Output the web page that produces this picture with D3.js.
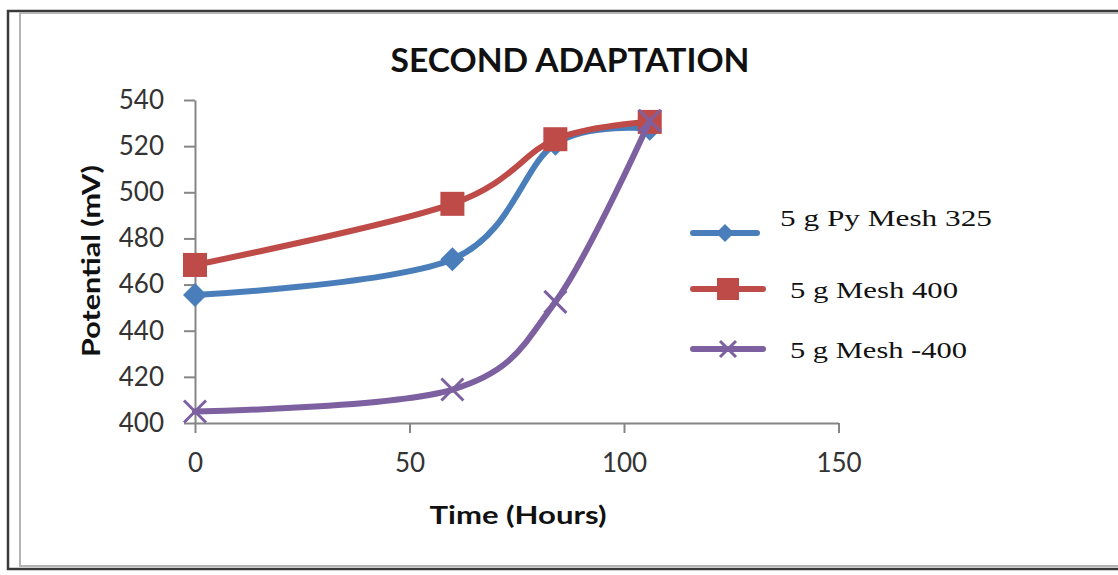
<!DOCTYPE html>
<html>
<head>
<meta charset="utf-8">
<script src="https://cdn.jsdelivr.net/npm/d3@7"></script>
<style>
  body { margin: 0; background: #fff; }
</style>
</head>
<body>
<div id="chart"></div>
<script>
// data
const hours = [0, 60, 84, 106];
const pyMesh325 = [455.5, 471, 521, 527.5];
const mesh400 = [468.5, 495, 523, 530.5];
const meshMinus400 = [405, 414.5, 452.5, 531];
const seriesNames = ['5 g Py Mesh 325', '5 g Mesh 400', '5 g Mesh -400'];
const xTicks = [0, 50, 100, 150];
const yTicks = [400, 420, 440, 460, 480, 500, 520, 540];

const width = 1118;
const height = 575;
const margin = { top: 100, right: 280, bottom: 152, left: 195 };

const colors = ['#4a7ebb', '#be4b48', '#7d60a0'];
const markers = ['diamond', 'square', 'cross'];

const svg = d3.select('#chart')
  .append('svg')
  .attr('width', width)
  .attr('height', height);

// chart frame (runs off the right edge)
svg.append('rect')
  .attr('x', 8).attr('y', 11)
  .attr('width', 1140).attr('height', 558)
  .attr('fill', 'none').attr('stroke', '#3a3a3a').attr('stroke-width', 2.5);
svg.append('rect')
  .attr('x', 20).attr('y', 13)
  .attr('width', 1120).attr('height', 553)
  .attr('fill', 'none').attr('stroke', '#b4b4b4').attr('stroke-width', 2);

const x = d3.scaleLinear()
  .domain([0, 150])
  .range([margin.left, 838.5]);

const y = d3.scaleLinear()
  .domain([400, 540])
  .range([423, margin.top]);

// Title
svg.append('text')
  .attr('x', 570).attr('y', 72)
  .attr('text-anchor', 'middle')
  .attr('textLength', 359).attr('lengthAdjust', 'spacingAndGlyphs')
  .style('font-family', 'Lato, "Open Sans", sans-serif')
  .style('font-weight', 'bold')
  .style('font-size', '33px')
  .style('fill', '#111')
  .text('SECOND ADAPTATION');

// X-axis
const xAxis = svg.append('g')
  .attr('transform', `translate(0,${y(400)})`)
  .call(d3.axisBottom(x).tickValues(xTicks).tickSize(10).tickPadding(21).tickSizeOuter(0));

// Y-axis
const yAxis = svg.append('g')
  .attr('transform', `translate(${x(0)},0)`)
  .call(d3.axisLeft(y).tickValues(yTicks).tickSize(11).tickPadding(20).tickSizeOuter(0));

[xAxis, yAxis].forEach(g => {
  g.select('.domain').attr('stroke', '#868686').attr('stroke-width', 2);
  g.selectAll('.tick line').attr('stroke', '#868686').attr('stroke-width', 2);
  g.selectAll('text')
    .style('font-family', 'Lato, "Open Sans", sans-serif')
    .style('font-size', '26px')
    .style('fill', '#333');
});

// Axis labels
svg.append('text')
  .attr('x', 518).attr('y', 524)
  .attr('text-anchor', 'middle')
  .attr('textLength', 177).attr('lengthAdjust', 'spacingAndGlyphs')
  .style('font-family', 'Lato, "Open Sans", sans-serif')
  .style('font-weight', 'bold')
  .style('font-size', '25px')
  .style('fill', '#111')
  .text('Time (Hours)');

svg.append('text')
  .attr('transform', 'translate(100,261) rotate(-90)')
  .attr('text-anchor', 'middle')
  .attr('textLength', 192).attr('lengthAdjust', 'spacingAndGlyphs')
  .style('font-family', 'Lato, "Open Sans", sans-serif')
  .style('font-weight', 'bold')
  .style('font-size', '25px')
  .style('fill', '#111')
  .text('Potential (mV)');

// marker drawing
function drawMarker(g, type, cx, cy, color, s) {
  if (type === 'diamond') {
    g.append('path')
      .attr('d', `M${cx},${cy - s}L${cx + s},${cy}L${cx},${cy + s}L${cx - s},${cy}Z`)
      .attr('fill', color);
  } else if (type === 'square') {
    g.append('rect')
      .attr('x', cx - s).attr('y', cy - s)
      .attr('width', 2 * s).attr('height', 2 * s)
      .attr('fill', color);
  } else {
    g.append('path')
      .attr('d', `M${cx - s},${cy - s}L${cx + s},${cy + s}M${cx - s},${cy + s}L${cx + s},${cy - s}`)
      .attr('stroke', color).attr('stroke-width', 3).attr('fill', 'none');
  }
}

const allSeries = [pyMesh325, mesh400, meshMinus400];
const markerSize = [12, 12, 11];

const line = d3.line()
  .x(d => x(d[0]))
  .y(d => y(d[1]))
  .curve(d3.curveCardinal.tension(0));

allSeries.forEach((vals, i) => {
  const pts = hours.map((h, j) => [h, vals[j]]);
  const g = svg.append('g');
  g.append('path')
    .datum(pts)
    .attr('d', line)
    .attr('fill', 'none')
    .attr('stroke', colors[i])
    .attr('stroke-width', 6)
    .attr('stroke-linecap', 'round');
  pts.forEach(p => drawMarker(g, markers[i], x(p[0]), y(p[1]), colors[i], markerSize[i]));
});

// Legend
const legendRows = [
  { y: 233, x1: 693, x2: 757, tx: 780, ty: 226, tw: 212 },
  { y: 289, x1: 693, x2: 763, tx: 790, ty: 298, tw: 168 },
  { y: 349, x1: 693, x2: 763, tx: 790, ty: 358, tw: 177 }
];
const legendMarker = [9, 11, 8];

seriesNames.forEach((name, i) => {
  const r = legendRows[i];
  const g = svg.append('g');
  g.append('line')
    .attr('x1', r.x1).attr('x2', r.x2)
    .attr('y1', r.y).attr('y2', r.y)
    .attr('stroke', colors[i]).attr('stroke-width', 6)
    .attr('stroke-linecap', 'round');
  drawMarker(g, markers[i], (r.x1 + r.x2) / 2, r.y, colors[i], legendMarker[i]);
  g.append('text')
    .attr('x', r.tx).attr('y', r.ty)
    .attr('textLength', r.tw).attr('lengthAdjust', 'spacingAndGlyphs')
    .style('font-family', '"Liberation Serif", "Times New Roman", serif')
    .style('font-size', '24px')
    .style('fill', '#111')
    .text(name);
});
</script>
</body>
</html>
